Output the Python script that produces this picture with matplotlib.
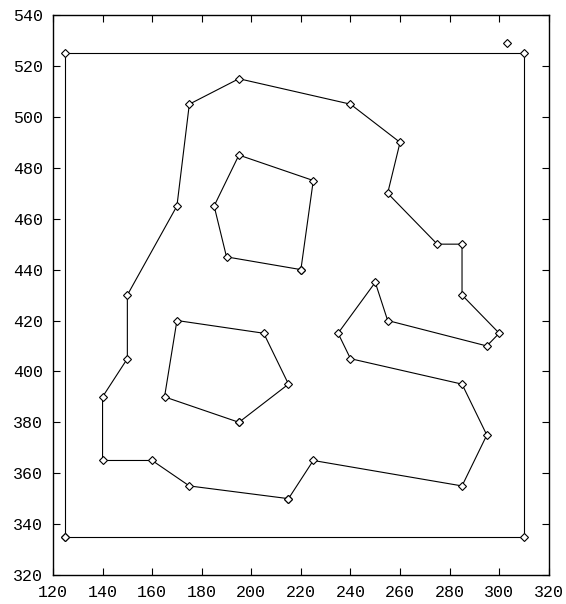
import matplotlib
matplotlib.use("Agg")
import matplotlib.pyplot as plt

plt.rcParams['font.family'] = ['Liberation Mono', 'DejaVu Sans Mono']

# outer frame rectangle
frame_x = [125, 310, 310, 125, 125]
frame_y = [335, 335, 525, 525, 335]

# big outline, starts and ends at (215, 350)
outer_x = [215, 225, 285, 295, 285, 240, 235, 250, 255, 295, 300, 285, 285, 275,
           255, 260, 240, 195, 175, 170, 150, 150, 140, 140, 160, 175, 215]
outer_y = [350, 365, 355, 375, 395, 405, 415, 435, 420, 410, 415, 430, 450, 450,
           470, 490, 505, 515, 505, 465, 430, 405, 390, 365, 365, 355, 350]

# upper hole
hole1_x = [220, 190, 185, 195, 225, 220]
hole1_y = [440, 445, 465, 485, 475, 440]

# lower hole
hole2_x = [195, 165, 170, 205, 215, 195]
hole2_y = [380, 390, 420, 415, 395, 380]

# lone point
pt_x = [303]
pt_y = [529]

fig = plt.figure(figsize=(5.66, 6.04), dpi=100)
ax = fig.add_axes([0.0936, 0.048, 0.876, 0.927])

style = dict(color='k', linewidth=0.8, marker='D', markersize=4.5,
             markerfacecolor='white', markeredgecolor='k', markeredgewidth=0.8)
for xs, ys in [(frame_x, frame_y), (outer_x, outer_y), (hole1_x, hole1_y), (hole2_x, hole2_y)]:
    ax.plot(xs, ys, **style)
ax.plot(pt_x, pt_y, linestyle='none', **{k: v for k, v in style.items() if k != 'linewidth'})

ax.set_xlim(120, 320)
ax.set_ylim(320, 540)
ax.set_xticks(range(120, 321, 20))
ax.set_yticks(range(320, 541, 20))
ax.tick_params(direction='in', top=True, right=True, length=5, width=0.8,
               labelsize=12, pad=7, colors='k')
for s in ax.spines.values():
    s.set_linewidth(1)

fig.savefig("out.png", dpi=100)
